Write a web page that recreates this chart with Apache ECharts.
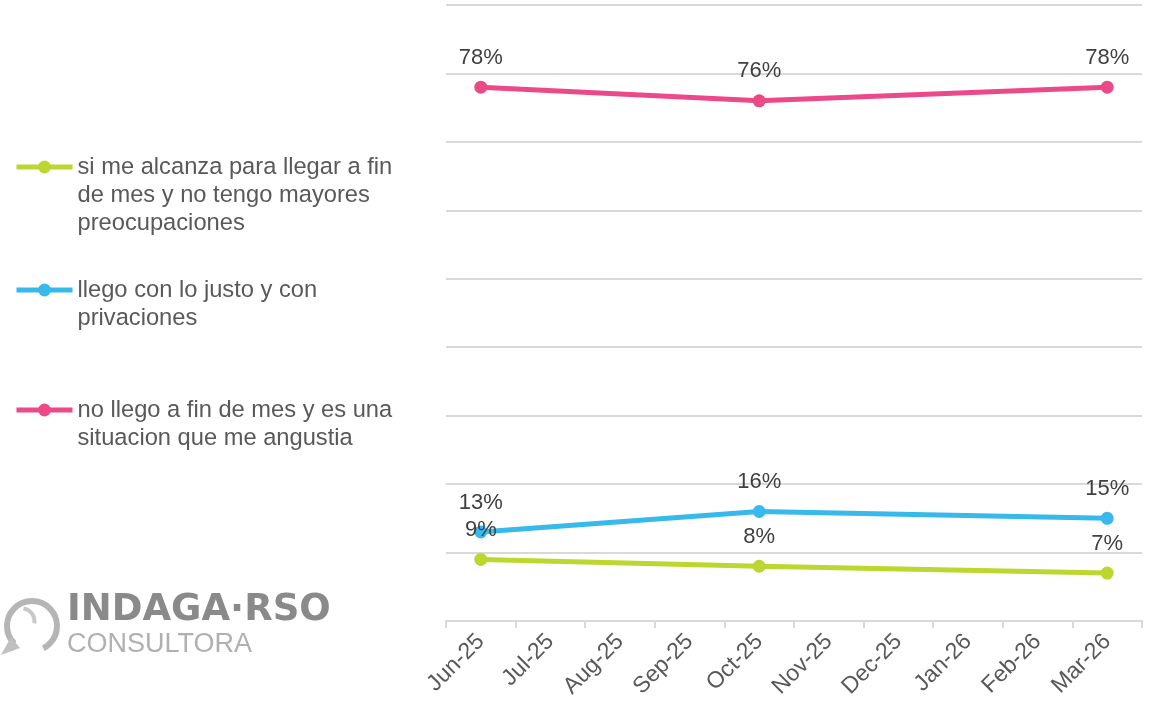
<!DOCTYPE html>
<html>
<head>
<meta charset="utf-8">
<script src="https://cdn.jsdelivr.net/npm/echarts@6/dist/echarts.min.js"></script>
<style>
  html, body { margin: 0; padding: 0; background: #fff; }
  #chart { width: 1150px; height: 707px; }
</style>
</head>
<body>
<div id="chart"></div>
<script>
// meses del eje x
const months = ['Jun-25', 'Jul-25', 'Aug-25', 'Sep-25', 'Oct-25', 'Nov-25', 'Dec-25', 'Jan-26', 'Feb-26', 'Mar-26']
// valores en % (solo hay medicion en jun, oct y mar)
const alcanza = [9, null, null, null, 8, null, null, null, null, 7]
const justo = [13, null, null, null, 16, null, null, null, null, 15]
const noLlego = [78, null, null, null, 76, null, null, null, null, 78]
const names = [
  'si me alcanza para llegar a fin de mes y no tengo mayores preocupaciones',
  'llego con lo justo y con privaciones',
  'no llego a fin de mes y es una situacion que me angustia'
]
// texto de la leyenda partido en lineas
const legendLines = [
  ['si me alcanza para llegar a fin', 'de mes y no tengo mayores', 'preocupaciones'],
  ['llego con lo justo y con', 'privaciones'],
  ['no llego a fin de mes y es una', 'situacion que me angustia']
]
const colors = ['#bed630', '#37b9eb', '#ec4989']

const chart = echarts.init(document.getElementById('chart'), null, { renderer: 'canvas' })

// una leyenda por item, el icono alineado con la primera linea
const legendTops = [167, 290, 410]
const legends = names.map((n, i) => {
  const lines = legendLines[i]
  const pad = lines.length - 1
  return {
    data: [n],
    left: 14,
    top: legendTops[i] - (2 * pad + 1) * 14,
    padding: 0,
    itemWidth: 56,
    itemHeight: 16,
    selectedMode: false,
    lineStyle: { width: 5 },
    formatter: () => '\n'.repeat(pad) + lines.join('\n'),
    textStyle: {
      fontFamily: 'Liberation Sans, Arial, sans-serif',
      fontSize: 23.7,
      lineHeight: 28,
      color: '#595959'
    }
  }
})

const makeSeries = (name, data, color) => ({
  name: name,
  type: 'line',
  data: data,
  connectNulls: true,
  symbol: 'circle',
  symbolSize: 13,
  color: color,
  lineStyle: { width: 5, color: color },
  itemStyle: { color: color },
  label: {
    show: true,
    position: 'top',
    distance: 12,
    formatter: '{c}%',
    fontFamily: 'Liberation Sans, Arial, sans-serif',
    fontSize: 22,
    color: '#404040'
  }
})

const option = {
  animation: false,
  backgroundColor: '#fff',
  legend: legends,
  grid: { left: 446, right: 8, top: 5, bottom: 86 },
  xAxis: {
    type: 'category',
    data: months,
    boundaryGap: true,
    axisLine: { lineStyle: { color: '#d9d9d9', width: 2 } },
    axisTick: { show: true, length: 7, lineStyle: { color: '#d9d9d9', width: 2 } },
    axisLabel: {
      rotate: 45,
      interval: 0,
      margin: 17,
      fontFamily: 'Liberation Sans, Arial, sans-serif',
      fontSize: 23,
      color: '#595959'
    }
  },
  yAxis: {
    type: 'value',
    min: 0,
    max: 90,
    interval: 10,
    axisLine: { show: false },
    axisTick: { show: false },
    axisLabel: { show: false },
    splitLine: { lineStyle: { color: '#d9d9d9', width: 2 } }
  },
  series: [
    makeSeries(names[0], alcanza, colors[0]),
    makeSeries(names[1], justo, colors[1]),
    makeSeries(names[2], noLlego, colors[2])
  ],
  // logo
  graphic: [
    {
      type: 'arc', left: 4, top: 598,
      shape: { cx: 28, cy: 28, r: 25, startAngle: Math.PI * 0.75, endAngle: Math.PI * 2.35 },
      style: { stroke: '#b5b5b5', lineWidth: 6, fill: null }
    },
    {
      type: 'arc', left: 21, top: 606,
      shape: { cx: 15, cy: 15, r: 13, startAngle: -Math.PI * 0.45, endAngle: Math.PI * 0.05 },
      style: { stroke: '#c8c8c8', lineWidth: 4, fill: null }
    },
    {
      type: 'polygon',
      shape: { points: [[1, 655], [11, 637], [20, 648]] },
      style: { fill: '#c0c0c0' }
    },
    {
      type: 'text', left: 67, top: 592,
      style: { text: 'INDAGA·RSO', fontFamily: 'DejaVu Sans, sans-serif', fontWeight: 'bold', fontSize: 37, fill: '#8a8a8a' }
    },
    {
      type: 'text', left: 67, top: 631,
      style: { text: 'CONSULTORA', fontFamily: 'Liberation Sans, Arial, sans-serif', fontSize: 27, fill: '#b0b0b0' }
    }
  ]
}

chart.setOption(option)
</script>
</body>
</html>
